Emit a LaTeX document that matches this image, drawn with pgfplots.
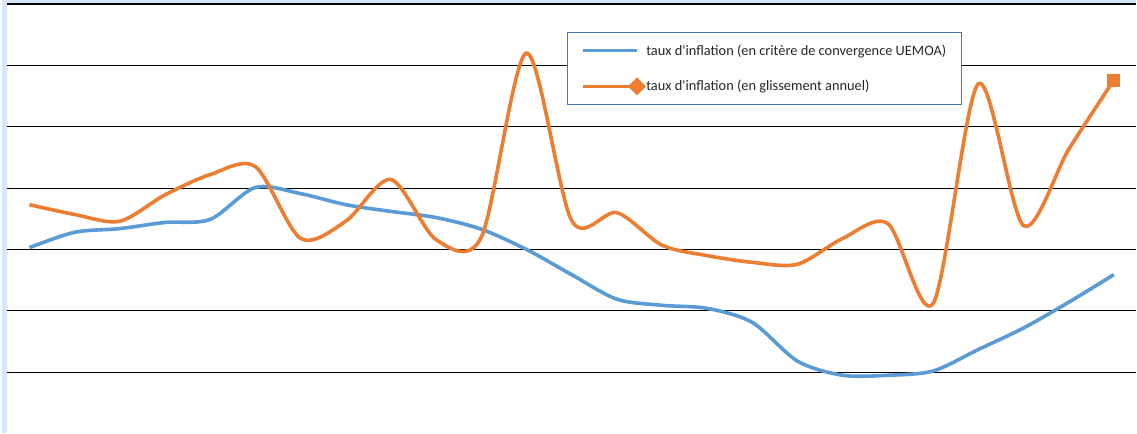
\documentclass[border=0pt]{standalone}
\usepackage{fontspec}
\setmainfont{Carlito}[Ligatures=TeXOff]
\usepackage{pgfplots}
\pgfplotsset{compat=1.18}
\definecolor{sblue}{RGB}{91,155,213}
\definecolor{sorange}{RGB}{237,125,49}
\definecolor{stripblue}{RGB}{213,229,252}
\definecolor{legblue}{RGB}{68,114,196}
\begin{document}
\begin{tikzpicture}[x=1pt,y=1pt]
\fill[stripblue] (0,0) rectangle (1137,434);
\fill[white] (5,0) rectangle (1137,430);
\begin{axis}[
  at={(5pt,0pt)}, anchor=south west,
  width=1132pt, height=430pt, scale only axis,
  xmin=-0.5, xmax=24.5, ymin=-0.992, ymax=6,
  axis line style={draw=none},
  xtick=\empty, ytick={0,1,2,3,4,5,6}, yticklabels={},
  major tick length=0pt,
  ymajorgrids, grid style={black, line width=1.1pt},
  clip=false,
  legend cell align=left,
  legend style={at={(0.4956,0.9349)}, anchor=north west,
    draw=legblue, line width=1.4pt, fill=white,
    font=\fontsize{14.4}{16.4}\selectfont, text=black!85,
    inner xsep=14pt, inner ysep=10pt,
    nodes={inner xsep=1pt},
    /tikz/row sep=19.5pt, /tikz/column sep=0pt},
]
\addplot[sblue, line width=3.6pt, smooth,
  legend image code/.code={\draw[sblue, line width=3.6pt] (0pt,0pt) -- (54pt,0pt);}]
coordinates {
(0,2.03) (1,2.28) (2,2.34) (3,2.44) (4,2.49) (5,3.01) (6,2.91) (7,2.73) (8,2.62)
(9,2.52) (10,2.33) (11,2.00) (12,1.59) (13,1.19) (14,1.09) (15,1.04) (16,0.81)
(17,0.18) (18,-0.05) (19,-0.05) (20,0.02) (21,0.37) (22,0.72) (23,1.14) (24,1.59)
};
\addlegendentry{taux d'inflation (en critère de convergence UEMOA)}
\addplot[sorange, line width=3.6pt, smooth, mark=square*, mark indices={25},
  mark size=6pt, mark options={solid, fill=sorange, draw=sorange, line width=0pt},
  legend image code/.code={\draw[sorange, line width=3.6pt] (0pt,0pt) -- (54pt,0pt);
    \fill[sorange] (54pt,0pt) +(-6.5pt,0pt) -- +(0pt,6.5pt) -- +(6.5pt,0pt) -- +(0pt,-6.5pt) -- cycle;}]
coordinates {
(0,2.73) (1,2.57) (2,2.46) (3,2.89) (4,3.22) (5,3.35) (6,2.18) (7,2.46) (8,3.14)
(9,2.16) (10,2.20) (11,5.20) (12,2.47) (13,2.60) (14,2.07) (15,1.90) (16,1.79)
(17,1.76) (18,2.18) (19,2.42) (20,1.12) (21,4.70) (22,2.39) (23,3.63) (24,4.76)
};
\addlegendentry{taux d'inflation (en glissement annuel)}
\end{axis}
\end{tikzpicture}
\end{document}
